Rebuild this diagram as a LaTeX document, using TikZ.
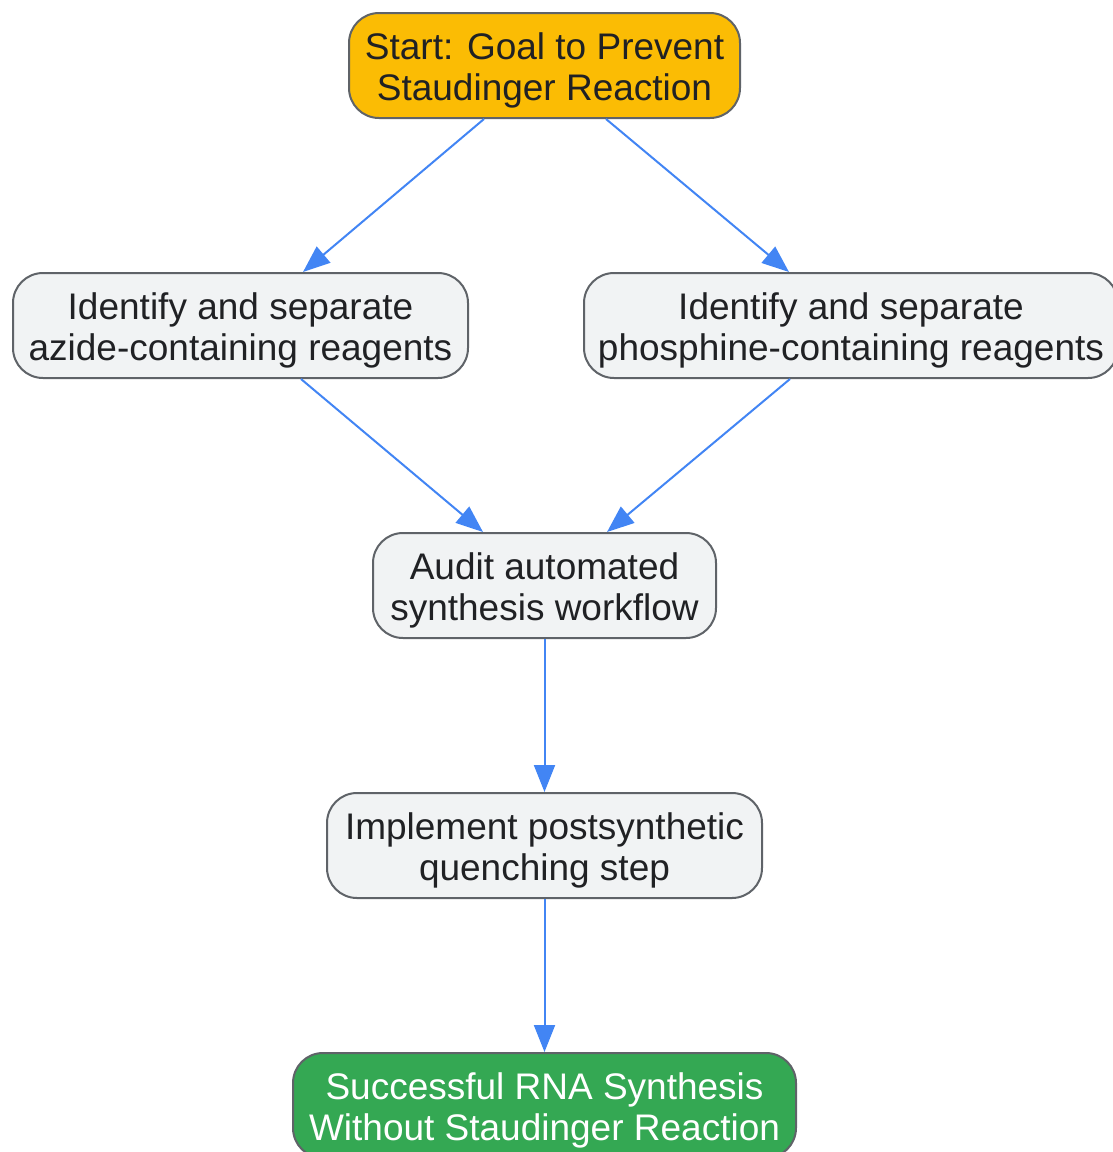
\documentclass[tikz,border=0pt]{standalone}
\usepackage{fontspec}
\setmainfont{Liberation Sans}
\usetikzlibrary{arrows.meta}
\definecolor{edgeblue}{HTML}{4285F4}
\definecolor{bordergray}{HTML}{5F6368}
\definecolor{boxfill}{HTML}{F1F3F4}
\definecolor{startfill}{HTML}{FBBC04}
\definecolor{endfill}{HTML}{34A853}
\definecolor{textdark}{HTML}{202124}
\newcommand\twolines[1]{\raisebox{-6pt}[\height][\depth]{\begin{tabular}{@{}c@{}}#1\end{tabular}}}
\tikzset{
  box/.style={draw=bordergray, line width=2pt, rounded corners=30pt, fill=boxfill,
    minimum height=105pt, inner sep=0pt, align=center, text=textdark,
    font=\fontsize{37}{41}\selectfont},
  conn/.style={draw=edgeblue, line width=2pt, -{Triangle[length=27pt,width=21pt]}}
}
\begin{document}
\begin{tikzpicture}[x=1pt,y=-1pt]
\useasboundingbox (0,0) rectangle (1112,1152);
\node[box, fill=startfill, minimum width=391pt] (start) at (544.5,65.5) {\twolines{Start: Goal to Prevent\\Staudinger Reaction}};
\node[box, minimum width=455pt] (azide) at (240.5,325.5) {\twolines{Identify and separate\\azide-containing reagents}};
\node[box, minimum width=534pt] (phos) at (851,325.5) {\twolines{Identify and separate\\phosphine-containing reagents}};
\node[box, minimum width=343pt] (audit) at (544.5,585.5) {\twolines{Audit automated\\synthesis workflow}};
\node[box, minimum width=435pt] (impl) at (544.5,845.5) {\twolines{Implement postsynthetic\\quenching step}};
\node[box, fill=endfill, text=white, minimum width=503pt] (succ) at (544.5,1105.5) {\twolines{Successful RNA Synthesis\\Without Staudinger Reaction}};
\draw[conn] ([xshift=-60.5pt]start.south) -- ([xshift=62.5pt]azide.north);
\draw[conn] ([xshift=61.5pt]start.south) -- ([xshift=-62pt]phos.north);
\draw[conn] ([xshift=60.5pt]azide.south) -- ([xshift=-61.5pt]audit.north);
\draw[conn] ([xshift=-61pt]phos.south) -- ([xshift=62.5pt]audit.north);
\draw[conn] (audit.south) -- (impl.north);
\draw[conn] (impl.south) -- (succ.north);
\end{tikzpicture}
\end{document}
